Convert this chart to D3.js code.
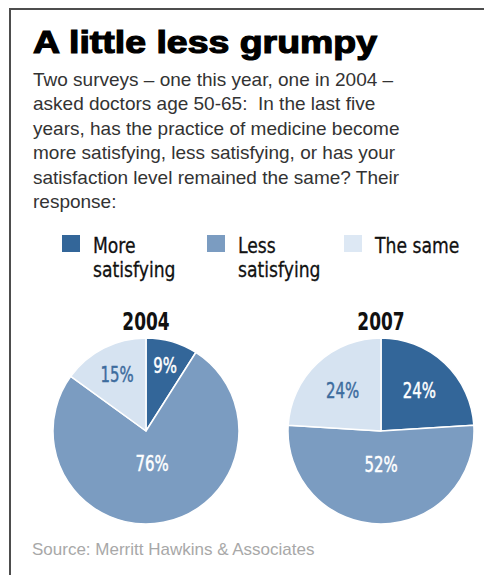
<!DOCTYPE html>
<html>
<head>
<meta charset="utf-8">
<script src="https://cdn.jsdelivr.net/npm/d3@7"></script>
<style>
  html, body { margin: 0; padding: 0; background: #fff; }
  svg { display: block; }
</style>
</head>
<body>
<svg id="chart" width="484" height="575"></svg>
<script>
const title = "A little less grumpy";
const subtitle = [
  "Two surveys \u2013 one this year, one in 2004 \u2013",
  "asked doctors age 50-65:  In the last five",
  "years, has the practice of medicine become",
  "more satisfying, less satisfying, or has your",
  "satisfaction level remained the same? Their",
  "response:"
];
const categories = ["More satisfying", "Less satisfying", "The same"];
const legendLines = [["More", "satisfying"], ["Less", "satisfying"], ["The same"]];
const years = ["2004", "2007"];
const values2004 = [9, 76, 15];
const values2007 = [24, 52, 24];
const source = "Source: Merritt Hawkins & Associates";

const svg = d3.select("#chart");
const W = 484, H = 575;

// frame: top and left rules only
svg.append("line").attr("x1", 10).attr("y1", 9).attr("x2", W).attr("y2", 9)
  .attr("stroke", "#4d4d4d").attr("stroke-width", 2);
svg.append("line").attr("x1", 10).attr("y1", 8).attr("x2", 10).attr("y2", H)
  .attr("stroke", "#4d4d4d").attr("stroke-width", 2);

svg.append("text").text(title)
  .attr("x", 33).attr("y", 53)
  .attr("font-family", "Liberation Sans, Arial, sans-serif")
  .attr("font-weight", "bold").attr("font-size", 32)
  .attr("fill", "#000").attr("stroke", "#000").attr("stroke-width", 1.2)
  .attr("textLength", 344).attr("lengthAdjust", "spacingAndGlyphs");

svg.append("g").selectAll("text").data(subtitle).join("text")
  .attr("x", 33).attr("y", (d, i) => 86 + i * 24.4)
  .attr("font-family", "Liberation Sans, Arial, sans-serif")
  .attr("font-size", 19).attr("fill", "#333")
  .attr("xml:space", "preserve")
  .style("white-space", "pre")
  .text(d => d);

const color = d3.scaleOrdinal()
  .domain(categories)
  .range(["#336699", "#7b9cc1", "#d6e3f1"]);
const labelColor = d3.scaleOrdinal()
  .domain(categories)
  .range(["#ffffff", "#ffffff", "#3d6c9e"]);

// narrow face: DejaVu Sans squeezed horizontally
const narrow = "DejaVu Sans, sans-serif";

// legend
const legendX = d3.scaleOrdinal().domain(categories).range([62, 207, 344]);
const legend = svg.append("g").selectAll("g").data(categories).join("g")
  .attr("transform", d => `translate(${legendX(d)}, 235)`);
legend.append("rect")
  .attr("width", 18).attr("height", 17)
  .attr("fill", d => d === "The same" ? "#dde8f4" : color(d));
legend.each(function(d, i) {
  d3.select(this).selectAll("text").data(legendLines[i]).join("text")
    .attr("transform", (t, j) => `translate(31, ${18 + j * 24}) scale(0.82, 1)`)
    .attr("font-family", narrow).attr("font-size", 21)
    .attr("fill", "#111").attr("stroke", "#111").attr("stroke-width", 0.3)
    .text(t => t);
});

// pies
const R = 93;
const cx = d3.scalePoint().domain(years).range([146, 381]);
const cy = 431;
const pie = d3.pie().sort(null).value(d => d);
const arc = d3.arc().innerRadius(0).outerRadius(R);
const labelR = f => R * Math.max(0.35, 0.82 - 0.9 * f);

[values2004, values2007].forEach((vals, k) => {
  const g = svg.append("g").attr("transform", `translate(${cx(years[k])}, ${cy})`);
  const arcs = pie(vals);
  const sum = d3.sum(vals);

  g.selectAll("path").data(arcs).join("path")
    .attr("d", arc)
    .attr("fill", (d, i) => color(categories[i]))
    .attr("stroke", "#fff").attr("stroke-width", 1.5)
    .attr("stroke-linejoin", "round");

  g.selectAll("text.pct").data(arcs).join("text")
    .attr("class", "pct")
    .attr("transform", d => {
      const a = (d.startAngle + d.endAngle) / 2;
      const r = labelR(d.value / sum);
      return `translate(${Math.sin(a) * r}, ${-Math.cos(a) * r}) scale(0.68, 1)`;
    })
    .attr("text-anchor", "middle").attr("dy", "0.36em")
    .attr("font-family", narrow).attr("font-size", 22)
    .attr("fill", (d, i) => labelColor(categories[i]))
    .attr("stroke", (d, i) => labelColor(categories[i])).attr("stroke-width", 0.5)
    .text(d => d.value + "%");

  svg.append("text").text(years[k])
    .attr("transform", `translate(${cx(years[k])}, 330) scale(0.68, 1)`)
    .attr("text-anchor", "middle")
    .attr("font-family", narrow).attr("font-size", 25)
    .attr("font-weight", "bold").attr("fill", "#111");
});

svg.append("text").text(source)
  .attr("x", 32).attr("y", 555)
  .attr("font-family", "Liberation Sans, Arial, sans-serif")
  .attr("font-size", 17).attr("fill", "#a8a8a8");
</script>
</body>
</html>
